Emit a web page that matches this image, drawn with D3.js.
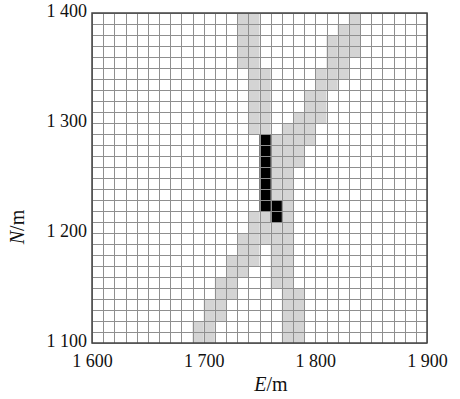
<!DOCTYPE html>
<html>
<head>
<meta charset="utf-8">
<script src="https://cdn.jsdelivr.net/npm/d3@7"></script>
<style>
body{margin:0;background:#fff;}
text{font-family:"Liberation Serif","Times New Roman",serif;fill:#111;}
</style>
</head>
<body>
<svg id="grid"></svg>
<script>
// tick values
var xTicks = [1600,1700,1800,1900];
var yTicks = [1100,1200,1300,1400];

// northing of the bottom of each cell row, top row first
var rowN = [1390,1380,1370,1360,1350,1340,1330,1320,1310,1300,
            1290,1280,1270,1260,1250,1240,1230,1220,1210,1200,
            1190,1180,1170,1160,1150,1140,1130,1120,1110,1100];

// easting of the west side of every grey cell, one list per row
var greyE = [
    [1730,1740,1830],
    [1730,1740,1820,1830],
    [1730,1740,1810,1820,1830],
    [1730,1740,1810,1820,1830],
    [1730,1740,1810,1820],
    [1740,1750,1800,1810,1820],
    [1740,1750,1800,1810],
    [1740,1750,1790,1800],
    [1740,1750,1790,1800],
    [1740,1750,1780,1790,1800],
    [1740,1750,1770,1780,1790],
    [1760,1770,1780,1790],
    [1760,1770,1780],
    [1760,1770,1780],
    [1760,1770],
    [1760,1770],
    [1760,1770],
    [1770],
    [1740,1750,1770],
    [1740,1750,1760,1770],
    [1730,1740,1750,1760,1770],
    [1730,1740,1760,1770],
    [1720,1730,1740,1760,1770],
    [1720,1730,1760,1770],
    [1710,1720,1760,1770],
    [1710,1720,1770,1780],
    [1700,1710,1770,1780],
    [1700,1710,1770,1780],
    [1690,1700,1770,1780],
    [1690,1700,1770,1780]
];

// black cells: easting, northing of the lower left corner
var blackE = [1750,1750,1750,1750,1750,1750,1750,1760,1760];
var blackN = [1280,1270,1260,1250,1240,1230,1220,1220,1210];

var cellSize = 10;

var initGrid = function(target)
{
    var screen = {width:460, height:399};
    var margins = {top:13, bottom:56, left:92, right:33};
    var graph = {
        width:screen.width-margins.left-margins.right,
        height:screen.height-margins.top-margins.bottom
    };

    var svg = d3.select(target)
        .attr("width",screen.width)
        .attr("height",screen.height);

    var xScale = d3.scaleLinear()
        .domain([1600,1900])
        .range([margins.left,margins.left+graph.width]);
    var yScale = d3.scaleLinear()
        .domain([1100,1400])
        .range([margins.top+graph.height,margins.top]);

    // flatten the grey rows into cells
    var greyCells = [];
    rowN.forEach(function(n,i){
        greyE[i].forEach(function(e){
            greyCells.push({e:e,n:n});
        });
    });
    var blackCells = blackE.map(function(e,i){return {e:e,n:blackN[i]};});

    var cells = svg.append("g").classed("cells",true);
    cells.selectAll("rect.grey")
        .data(greyCells)
        .enter()
        .append("rect")
        .classed("grey",true)
        .attr("x",function(d){return xScale(d.e);})
        .attr("y",function(d){return yScale(d.n+cellSize);})
        .attr("width",function(d){return xScale(d.e+cellSize)-xScale(d.e);})
        .attr("height",function(d){return yScale(d.n)-yScale(d.n+cellSize);})
        .attr("fill","#d4d4d4");
    cells.selectAll("rect.black")
        .data(blackCells)
        .enter()
        .append("rect")
        .classed("black",true)
        .attr("x",function(d){return xScale(d.e);})
        .attr("y",function(d){return yScale(d.n+cellSize);})
        .attr("width",function(d){return xScale(d.e+cellSize)-xScale(d.e);})
        .attr("height",function(d){return yScale(d.n)-yScale(d.n+cellSize);})
        .attr("fill","#000");

    // grid lines every cell
    var xLines = d3.range(1600,1900+1,cellSize);
    var yLines = d3.range(1100,1400+1,cellSize);
    var lines = svg.append("g").classed("gridlines",true)
        .attr("stroke","#8f8f8f")
        .attr("stroke-width",1);
    lines.selectAll("line.v")
        .data(xLines)
        .enter()
        .append("line")
        .classed("v",true)
        .attr("x1",function(d){return Math.round(xScale(d))+0.5;})
        .attr("x2",function(d){return Math.round(xScale(d))+0.5;})
        .attr("y1",yScale(1100))
        .attr("y2",yScale(1400));
    lines.selectAll("line.h")
        .data(yLines)
        .enter()
        .append("line")
        .classed("h",true)
        .attr("y1",function(d){return Math.round(yScale(d))+0.5;})
        .attr("y2",function(d){return Math.round(yScale(d))+0.5;})
        .attr("x1",xScale(1600))
        .attr("x2",xScale(1900));

    svg.append("rect")
        .attr("x",xScale(1600))
        .attr("y",yScale(1400))
        .attr("width",graph.width)
        .attr("height",graph.height)
        .attr("fill","none")
        .attr("stroke","#444")
        .attr("stroke-width",1.5);

    // axes with "1 600" style labels
    var fmt = d3.formatLocale({decimal:".",thousands:" ",grouping:[3],currency:["",""]}).format(",");
    var xAxis = d3.axisBottom(xScale).tickValues(xTicks).tickFormat(fmt).tickSize(0).tickPadding(11);
    var yAxis = d3.axisLeft(yScale).tickValues(yTicks).tickFormat(fmt).tickSize(0).tickPadding(5);

    var axes = svg.append("g");
    axes.append("g")
        .attr("transform","translate(0,"+(margins.top+graph.height)+")")
        .call(xAxis);
    var yAxisG = axes.append("g")
        .attr("transform","translate("+margins.left+",0)")
        .call(yAxis);
    yAxisG.selectAll("text").attr("dy","0.22em");
    axes.selectAll(".domain").remove();
    axes.selectAll(".tick text")
        .attr("font-family","Liberation Serif")
        .attr("font-size",18)
        .attr("fill","#111");

    // axis titles
    var xLabel = svg.append("text")
        .attr("text-anchor","middle")
        .attr("x",271)
        .attr("y",391)
        .attr("font-size",20);
    xLabel.append("tspan").attr("font-style","italic").text("E");
    xLabel.append("tspan").text("/m");

    var yLabel = svg.append("text")
        .attr("text-anchor","middle")
        .attr("transform","translate(24,227) rotate(-90)")
        .attr("font-size",20);
    yLabel.append("tspan").attr("font-style","italic").text("N");
    yLabel.append("tspan").text("/m");
}

initGrid("#grid");
</script>
</body>
</html>
